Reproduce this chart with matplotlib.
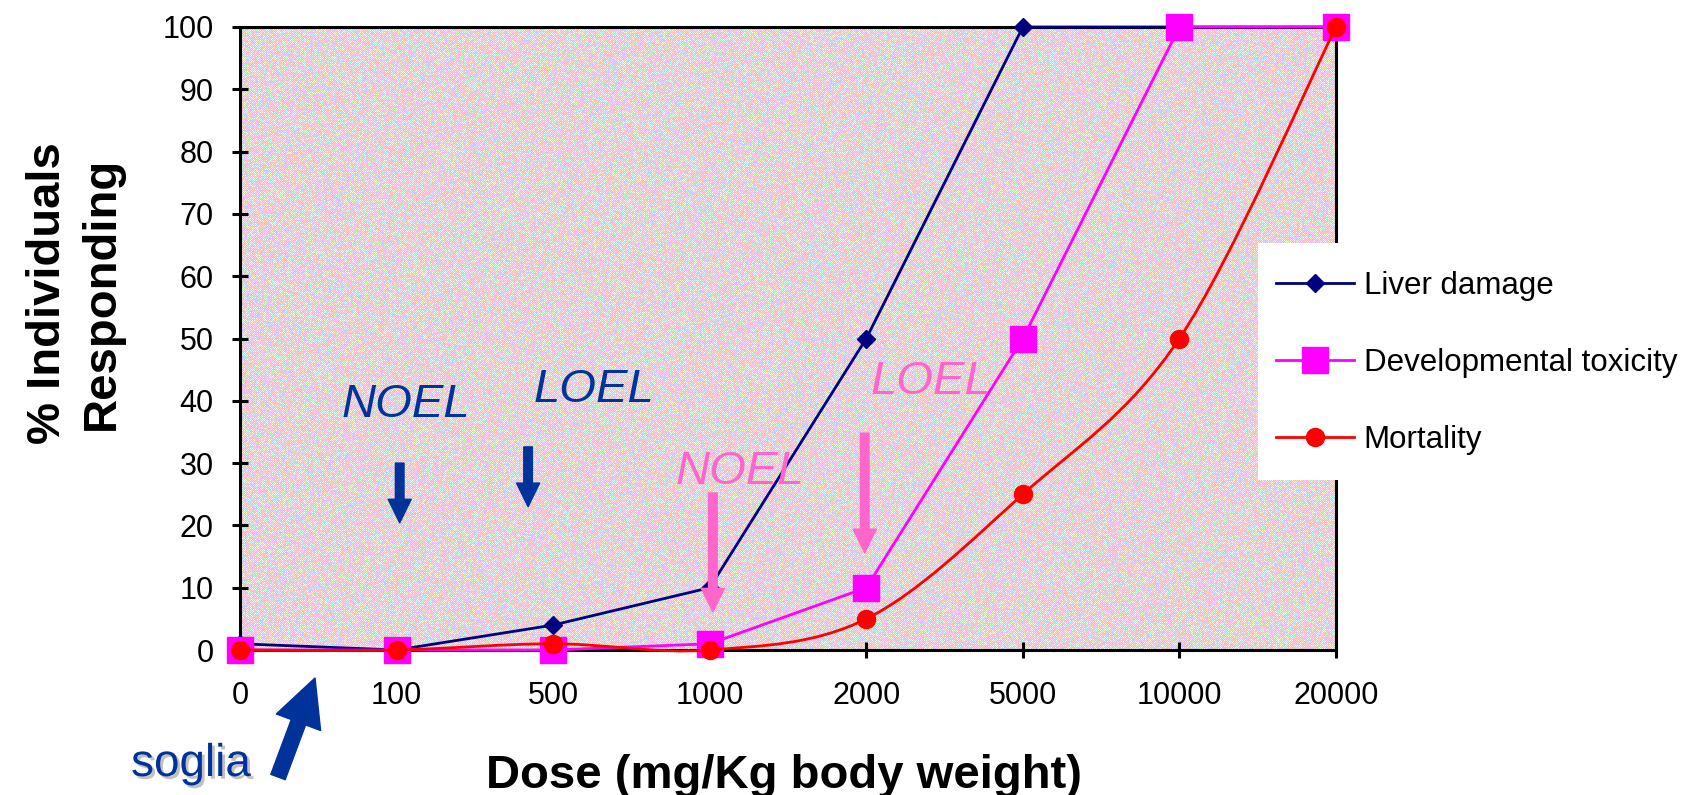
import numpy as np
import matplotlib
matplotlib.use("Agg")
import matplotlib.pyplot as plt
from matplotlib.lines import Line2D
from matplotlib.path import Path
from matplotlib.patches import PathPatch, Rectangle
import matplotlib.patheffects as pe

plt.rcParams['font.family'] = ['Liberation Sans', 'DejaVu Sans']

# data
doses = ['0', '100', '500', '1000', '2000', '5000', '10000', '20000']
liver = [1, 0, 4, 10, 50, 100, 100, 100]
devtox = [0, 0, 0, 1, 10, 50, 100, 100]
mortality = [0, 0, 1, 0, 5, 25, 50, 100]
series_names = ['Liver damage', 'Developmental toxicity', 'Mortality']

NAVY = '#000080'
MAGENTA = '#FF00FF'
RED = '#FF0000'
BLUE_TXT = '#003399'
PINK = '#FF66CC'

W_PX, H_PX = 1684, 795
fig = plt.figure(figsize=(W_PX / 100, H_PX / 100), dpi=100, facecolor='white')

# plot area in pixels (left, top, right, bottom)
L, T, R, B = 240, 27, 1336, 650
ax = fig.add_axes([L / W_PX, 1 - B / H_PX, (R - L) / W_PX, (B - T) / H_PX])
ax.set_facecolor('none')
ax.set_zorder(1)

# dithered pastel background like the original chart (bit-mixed hash, pixel exact)
h, w = B - T, R - L
ii, jj = np.indices((h, w)).astype(np.uint64)
mask32 = np.uint64(0xFFFFFFFF)
k = (ii * np.uint64(w) + jj) & mask32
k ^= k >> np.uint64(16)
k = (k * np.uint64(0x45D9F3B)) & mask32
k ^= k >> np.uint64(16)
k = (k * np.uint64(0x45D9F3B)) & mask32
k ^= k >> np.uint64(16)
palette = np.array([[255, 204, 204], [255, 204, 204], [255, 204, 204],
                    [255, 204, 255], [255, 204, 255],
                    [204, 204, 255], [255, 255, 204], [204, 255, 204],
                    [204, 255, 255], [255, 255, 255]]) / 255
img = palette[(k % np.uint64(len(palette))).astype(int)]
img[((ii + jj) % np.uint64(2)) == 0] = np.array([207, 205, 206]) / 255
fig.figimage(img, xo=L, yo=H_PX - B, origin='upper', zorder=0)

x = np.arange(len(doses))

ax.plot(x, liver, color=NAVY, lw=2, marker='D', ms=9, mec=NAVY, mfc=NAVY,
        zorder=3, clip_on=False)
ax.plot(x, devtox, color=MAGENTA, lw=2, marker='s', ms=18.5, mec=MAGENTA, mfc=MAGENTA,
        zorder=4, clip_on=False)

# mortality drawn as a smoothed line (Excel style Catmull-Rom bezier through the points)
pts = np.column_stack([x, mortality]).astype(float)
ext = np.vstack([pts[0], pts, pts[-1]])
verts = [pts[0]]
codes = [Path.MOVETO]
for n in range(len(pts) - 1):
    p0, p1, p2, p3 = ext[n], ext[n + 1], ext[n + 2], ext[n + 3]
    verts += [p1 + (p2 - p0) / 6, p2 - (p3 - p1) / 6, p2]
    codes += [Path.CURVE4] * 3
ax.add_patch(PathPatch(Path(verts, codes), fc='none', ec=RED, lw=2, zorder=5, clip_on=False))
ax.plot(x, mortality, ls='none', marker='o', ms=13, mec=RED, mfc=RED, zorder=6, clip_on=False)

ax.set_xlim(0, len(doses) - 1)
ax.set_ylim(0, 100)
ax.set_xticks(x)
ax.set_xticklabels(doses)
ax.set_yticks(np.arange(0, 101, 10))

for s in ax.spines.values():
    s.set_linewidth(2.2)
    s.set_zorder(2)
ax.tick_params(axis='both', direction='inout', length=12, width=2.2, labelsize=22)
ax.tick_params(axis='x', pad=16)
ax.tick_params(axis='y', pad=13)

ax.set_ylabel('% Individuals\nResponding', fontsize=34, fontweight='bold', linespacing=1.3)
ax.yaxis.set_label_coords(-0.106, 0.573)
ax.set_xlabel('Dose (mg/Kg body weight)', fontsize=34, fontweight='bold')
ax.xaxis.set_label_coords(0.496, -0.167)

# NOEL / LOEL annotations
def down_arrow(xp, y0, y1, color):
    ax.annotate('', xy=(xp, y1), xytext=(xp, y0),
                arrowprops=dict(arrowstyle='simple,head_width=1.66,head_length=1.7,tail_width=0.62',
                                color=color, shrinkA=0, shrinkB=0, mutation_scale=10),
                zorder=7)

ax.text(1.06, 39.3, 'NOEL', color=BLUE_TXT, fontsize=34, style='italic', ha='center', va='center')
ax.text(2.26, 41.7, 'LOEL', color=BLUE_TXT, fontsize=34, style='italic', ha='center', va='center')
ax.text(3.19, 28.6, 'NOEL', color=PINK, fontsize=34, style='italic', ha='center', va='center', zorder=8)
ax.text(4.41, 43.0, 'LOEL', color=PINK, fontsize=34, style='italic', ha='center', va='center', zorder=8)
down_arrow(1.02, 30.0, 20.4, BLUE_TXT)
down_arrow(1.84, 32.6, 23.0, BLUE_TXT)
down_arrow(3.02, 25.2, 6.1, PINK)
down_arrow(3.99, 34.8, 15.6, PINK)

# soglia
ax.annotate('', xy=(315, H_PX - 678), xytext=(278, H_PX - 777),
            xycoords='figure pixels', textcoords='figure pixels',
            arrowprops=dict(arrowstyle='simple,head_width=3.4,head_length=3.4,tail_width=1.1',
                            color=BLUE_TXT, shrinkA=0, shrinkB=0, mutation_scale=10),
            annotation_clip=False)
fig.text(191 / W_PX, 1 - 764 / H_PX, 'soglia', color=BLUE_TXT, fontsize=33,
         ha='center', va='center',
         path_effects=[pe.SimplePatchShadow(offset=(2, -2), shadow_rgbFace='#999999', alpha=0.6),
                       pe.Normal()])

# legend in a white box overlapping the plot area
fig.add_artist(Rectangle((1258 / W_PX, 1 - 480 / H_PX), (W_PX - 1258) / W_PX, 237 / H_PX,
                         transform=fig.transFigure, facecolor='white', edgecolor='none', zorder=4))
handles = [
    Line2D([], [], color=NAVY, lw=2, marker='D', ms=9, mec=NAVY, mfc=NAVY),
    Line2D([], [], color=MAGENTA, lw=2, marker='s', ms=18.5, mec=MAGENTA, mfc=MAGENTA),
    Line2D([], [], color=RED, lw=2, marker='o', ms=13, mec=RED, mfc=RED),
]
leg = fig.legend(handles, series_names, loc='upper left', bbox_to_anchor=(1276 / W_PX, 1 - 271 / H_PX),
                 frameon=False, fontsize=22.5, handlelength=2.5, handletextpad=0.3,
                 labelspacing=1.5, borderpad=0, borderaxespad=0)
leg.set_zorder(6)

fig.savefig('out.png', dpi=100, facecolor='white')
